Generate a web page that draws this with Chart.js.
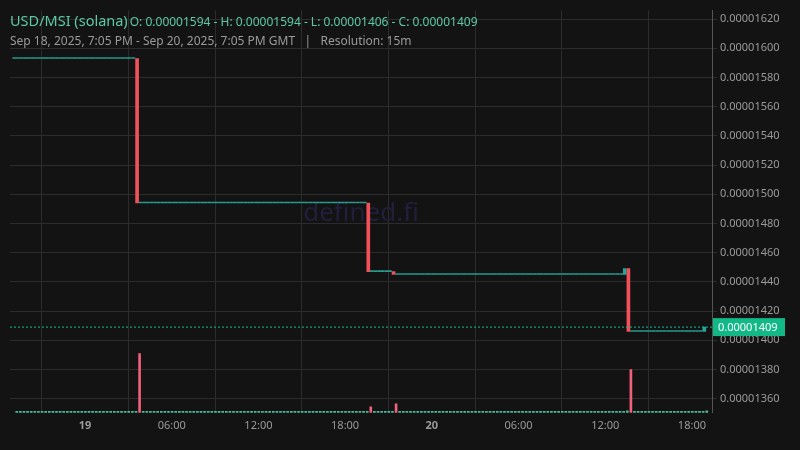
<!DOCTYPE html>
<html><head><meta charset="utf-8">
<script src="https://cdn.jsdelivr.net/npm/chart.js@4"></script>
<style>
html,body{margin:0;padding:0;background:#131313;}
#wrap{position:relative;width:800px;height:450px;}
.t1{position:absolute;left:10px;top:9px;font-family:"Noto Sans",sans-serif;color:#5cc9a7;white-space:nowrap}
.t1 .a{font-size:14.5px}.t1 .b{font-size:12px;margin-left:2px}
.t2{position:absolute;left:10px;top:32px;font-family:"Noto Sans",sans-serif;font-size:12px;color:#9a9a9a;white-space:nowrap}
</style></head><body>
<div id="wrap"><canvas id="c" width="800" height="450"></canvas>
<div class="t1"><span class="a">USD/MSI (solana)</span><span class="b">O: 0.00001594 - H: 0.00001594 - L: 0.00001406 - C: 0.00001409</span></div>
<div class="t2">Sep 18, 2025, 7:05 PM - Sep 20, 2025, 7:05 PM GMT &nbsp; | &nbsp; Resolution: 15m</div>
</div>
<script>
// time in hours relative to Sep 19 00:00 GMT; 15m candles starting Sep 18 19:05
const firstCandleStart = -4.9167;
const candleHours = 0.25;
const candleCount = 192;
// flat segments (slot ranges, price x1e-8)
const segStart = [0, 35, 99, 106, 171];
const segEnd   = [33, 97, 104, 168, 190];
const segPrice = [1593, 1494, 1447, 1445, 1406];
// moving candles
const moveSlot  = [34, 98, 105, 169, 170, 190, 191];
const moveOpen  = [1593, 1494, 1447, 1445, 1449, 1406, 1406];
const moveClose = [1494, 1447, 1445, 1449, 1406, 1406, 1409];
const moveVol   = [59, 6, 9, 2, 43, 1.5, 2];
const flatVol = 1.5;
const lastPrice = 1409;
const yTicks = [1360,1380,1400,1420,1440,1460,1480,1500,1520,1540,1560,1580,1600,1620];
const xTickVals = [0,6,12,18,24,30,36,42];
const xTickLabels = ['19','06:00','12:00','18:00','20','06:00','12:00','18:00'];

const UP='#26a69a', DN='#f0525a';
const slots=[];
for(let s=0;s<segStart.length;s++) for(let i=segStart[s];i<=segEnd[s];i++) slots[i]={o:segPrice[s],c:segPrice[s],v:flatVol};
moveSlot.forEach((s,k)=>{slots[s]={o:moveOpen[k],c:moveClose[k],v:moveVol[k]};});
const cData=[],cCol=[],vData=[],vCol=[];
slots.forEach((d,i)=>{ if(!d) return;
  const x=firstCandleStart+i*candleHours+candleHours/2;
  cData.push({x:x,y:[Math.min(d.o,d.c)*1e-8,Math.max(d.o,d.c)*1e-8]});
  const col=d.c<d.o?DN:(d.c===d.o?'#2a9d90':UP); cCol.push(col);
  vData.push({x:x,y:d.v}); vCol.push(d.c<d.o?'#f0607a':'#4fb89a');
});

const deco={id:'deco',
 beforeDatasetsDraw(ch){const a=ch.chartArea,c=ch.ctx;c.save();
  c.font='26px "Noto Sans"';c.fillStyle='#221f3c';c.textAlign='center';c.textBaseline='middle';
  c.fillText('defined.fi',(a.left+a.right)/2,(a.top+a.bottom)/2+2);c.restore();},
 afterDraw(ch){const a=ch.chartArea,c=ch.ctx,y=ch.scales.y.getPixelForValue(lastPrice*1e-8);
  c.save();c.strokeStyle='#13c08e';c.setLineDash([2,2]);c.lineWidth=1;
  c.beginPath();c.moveTo(a.left,y);c.lineTo(a.right,y);c.stroke();c.setLineDash([]);
  c.fillStyle='#13b887';c.fillRect(a.right+1,y-9,72,18);
  c.fillStyle='#fff';c.font='11px "Noto Sans"';c.textBaseline='middle';c.textAlign='left';
  c.fillText((lastPrice*1e-8).toFixed(8),a.right+6,y+0.5);c.restore();}
};

new Chart(document.getElementById('c'),{
 type:'bar',
 data:{datasets:[
  {data:vData,backgroundColor:vCol,yAxisID:'yv',barThickness:2,order:2},
  {data:cData,backgroundColor:cCol,yAxisID:'y',barThickness:3,minBarLength:1,order:1}
 ]},
 options:{responsive:false,animation:false,events:[],
  layout:{padding:{left:10,top:10,right:0,bottom:12}},
  plugins:{legend:{display:false},tooltip:{enabled:false}},
  scales:{
   x:{type:'linear',min:-5.19,max:43.39,offset:false,
      grid:{color:'#2c2c2c',drawTicks:false},border:{display:false},
      afterBuildTicks(s){s.ticks=xTickVals.map(v=>({value:v}));},
      ticks:{color:'#9a9a9a',padding:6,maxRotation:0,autoSkip:false,
        font:(ctx)=>({family:'"Noto Sans"',size:11,weight:(ctx.index===0||ctx.index===4)?'bold':'normal'}),
        callback:(v,i)=>xTickLabels[i]}},
   y:{position:'right',min:1350.3e-8,max:1626.2e-8,
      grid:{color:'#2c2c2c',drawTicks:true,tickLength:5},border:{color:'#555'},
      afterBuildTicks(s){s.ticks=yTicks.map(v=>({value:v*1e-8}));},
      afterFit(s){s.width=88;},
      ticks:{color:'#9a9a9a',padding:3,font:{family:'"Noto Sans"',size:11},
        callback:(v,i)=>(yTicks[i]*1e-8).toFixed(8)}},
   yv:{display:false,min:0,max:401}
  }},
 plugins:[deco]
});
</script></body></html>
